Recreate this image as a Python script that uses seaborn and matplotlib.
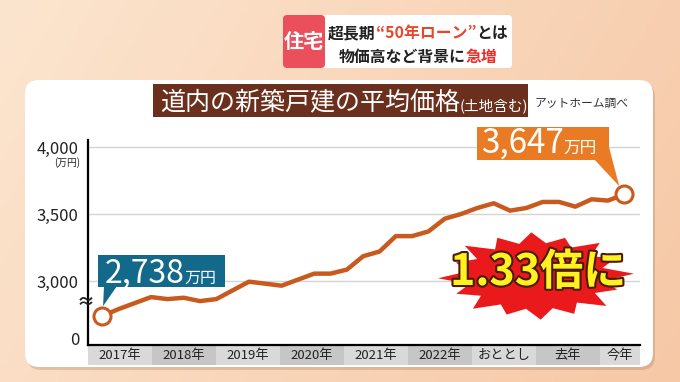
import numpy as np
import matplotlib
matplotlib.use("Agg")
import matplotlib.pyplot as plt
import seaborn as sns
import pandas as pd
from matplotlib.patches import FancyBboxPatch, Polygon, Rectangle
import matplotlib.patheffects as pe

# ---------------- data ----------------
period_labels = ["2017年", "2018年", "2019年", "2020年", "2021年", "2022年", "おととし", "去年", "今年"]
# quarterly average price of newly built detached houses in Hokkaido (万円)
prices = [2738, 2790, 2835, 2880, 2865, 2875, 2850, 2865,
          2930, 2995, 2980, 2965, 3010, 3055, 3055, 3085,
          3185, 3220, 3335, 3335, 3370, 3465, 3500, 3545,
          3580, 3525, 3545, 3590, 3590, 3555, 3610, 3600, 3647]
ytick_vals = [3000, 3500, 4000]
ytick_labels = ["3,000", "3,500", "4,000"]
start_label = ("2,738", "万円")
end_label = ("3,647", "万円")
ratio_label = "1.33倍に"

# ---------------- style ----------------
sns.set_theme(style="white")
plt.rcParams['font.family'] = ['Noto Sans CJK JP', 'DejaVu Sans']

W, H = 680, 382
fig = plt.figure(figsize=(W / 100, H / 100), dpi=100)
T = fig.dpi_scale_trans


def P(x, y):
    return (x / 100, (H - y) / 100)


def F(x, y):
    return (x / W, 1 - y / H)


# background gradient
bg = fig.add_axes([0, 0, 1, 1], zorder=-10)
gx = np.linspace(0, 1, 200)
gy = np.linspace(0, 1, 120)
GX, GY = np.meshgrid(gx, gy)
c1 = np.array([252, 229, 207]) / 255
c2 = np.array([246, 200, 166]) / 255
tt = np.clip(0.75 * GX + 0.25 * GY, 0, 1)[..., None]
img = c1 * (1 - tt) + c2 * tt
bg.imshow(img, aspect='auto', extent=[0, 1, 0, 1])
bg.axis('off')

# white panel
shadow = FancyBboxPatch(P(27, 370), 6.28, 2.87, boxstyle="round,pad=0,rounding_size=0.14",
                        transform=T, fc=(0.6, 0.4, 0.3, 0.25), ec='none', zorder=-6)
fig.add_artist(shadow)
panel = FancyBboxPatch(P(25, 367), 6.28, 2.87, boxstyle="round,pad=0,rounding_size=0.14",
                       transform=T, fc='white', ec='none', zorder=-5)
fig.add_artist(panel)

# ---------------- main axes ----------------
ax = fig.add_axes([88 / W, 37 / H, 552 / W, 205 / H], zorder=0)
ax.set_facecolor('none')
per_px = 500 / 67
ax.set_ylim(3000 - 64 * per_px, 4000 + 7 * per_px)
ax.set_xlim(0, 8.625)

xpos = 0.22 + 0.255 * np.arange(len(prices))
df = pd.DataFrame({"x": xpos, "price": prices})
line_color = "#c85a1e"
sns.lineplot(data=df, x="x", y="price", ax=ax, color=line_color, lw=3.2, zorder=3)
ends = df.iloc[[0, -1]]
sns.scatterplot(data=ends, x="x", y="price", ax=ax, s=150, color='white',
                edgecolor=line_color, linewidth=2.2, zorder=4)

ax.set_yticks(ytick_vals)
ax.set_yticklabels(ytick_labels, fontsize=12, color='#222222')
ax.tick_params(axis='y', length=0, pad=7)
ax.yaxis.grid(True, color='#d4d4d4', lw=1)
ax.set_xticks([])
ax.set_xlabel("")
ax.set_ylabel("")
for s in ['top', 'right']:
    ax.spines[s].set_visible(False)
for s in ['left', 'bottom']:
    ax.spines[s].set_color('black')
    ax.spines[s].set_linewidth(1.6)

yt = ax.get_yaxis_transform()
ax.text(-0.0145, 3000 - 59 * per_px, "0", transform=yt, ha='right', va='center',
        fontsize=12, color='#222222')
ax.text(-0.0145, 4000 - 16 * per_px, "(万円)", transform=yt, ha='right', va='center',
        fontsize=7, color='#222222')
ax.text(-0.004, 3000 - 21 * per_px, "≈", transform=yt, ha='center', va='center',
        fontsize=13, fontweight='bold', color='#222222')

# category bands under the axis
xt = ax.get_xaxis_transform()
band_cols = ['#d9d9d9', '#c6c6c6']
for k, lab in enumerate(period_labels):
    w = 1 if k < len(period_labels) - 1 else 0.625
    ax.add_patch(Rectangle((k, -0.098), w, 0.092, transform=xt, clip_on=False,
                           fc=band_cols[k % 2], ec='none'))
    ax.text(k + w / 2, -0.052, lab, transform=xt, ha='center', va='center',
            fontsize=9.5, color='#222222')

# ---------------- rich text helper ----------------
renderer = fig.canvas.get_renderer()


def rich(x, y, parts, ha='left', va='baseline', zorder=7):
    texts, widths = [], []
    for s, kw in parts:
        t = fig.text(0, 0, s, va=va, ha='left', zorder=zorder, **kw)
        widths.append(t.get_window_extent(renderer).width)
        texts.append(t)
    total = sum(widths)
    cur = x - total / 2 if ha == 'center' else x
    for t, w in zip(texts, widths):
        t.set_position(F(cur, y))
        cur += w
    return texts


# ---------------- header ----------------
fig.add_artist(FancyBboxPatch(P(283, 68), 2.29, 0.53, boxstyle="round,pad=0,rounding_size=0.04",
                              transform=T, fc='white', ec='none', zorder=2))
fig.add_artist(FancyBboxPatch(P(283, 68), 0.42, 0.53, boxstyle="round,pad=0,rounding_size=0.04",
                              transform=T, fc='#ec4f5c', ec='none', zorder=3))
fig.text(*F(304, 42), "住宅", ha='center', va='center', fontsize=14.5, color='white',
         fontweight='bold', zorder=7)
hfs = 11.4
rich(418, 38, [("超長期", dict(fontsize=hfs, color='#222222', fontweight='bold')),
               ("“50年ローン”", dict(fontsize=hfs, color='#e8472b', fontweight='bold')),
               ("とは", dict(fontsize=hfs, color='#222222', fontweight='bold'))], ha='center')
rich(418, 62, [("物価高など背景に", dict(fontsize=hfs, color='#222222', fontweight='bold')),
               ("急増", dict(fontsize=hfs, color='#e8312b', fontweight='bold'))], ha='center')

# ---------------- title ----------------
fig.add_artist(Rectangle(P(153, 117), 3.75, 0.33, transform=T, fc='#6a2f1d', ec='none', zorder=2))
rich(160, 110, [("道内の新築戸建の平均価格", dict(fontsize=18, color='white')),
                ("(土地含む)", dict(fontsize=10.5, color='white'))])
fig.text(*F(535, 103), "アットホーム調べ", ha='left', va='center', fontsize=8.5,
         color='#333333', zorder=7)

# ---------------- callouts ----------------
def data_px(i):
    d = ax.transData.transform((xpos[i], prices[i]))
    return d[0], H - d[1]


sx, sy = data_px(0)
teal = '#13698a'
fig.add_artist(Rectangle(P(98, 287), 1.27, 0.32, transform=T, fc=teal, ec='none', zorder=5))
fig.add_artist(Polygon([P(104, 286), P(117, 286), P(sx + 1, sy - 10)], closed=True,
                       transform=T, fc=teal, ec='none', zorder=5))
rich(105, 283, [(start_label[0], dict(fontsize=23, color='white')),
                (start_label[1], dict(fontsize=11.5, color='white'))])

ex, ey = data_px(len(prices) - 1)
orange = '#ea7b25'
fig.add_artist(Rectangle(P(477, 160), 1.32, 0.33, transform=T, fc=orange, ec='none', zorder=5))
fig.add_artist(Polygon([P(594, 159), P(609, 147), P(ex - 5, ey - 8)], closed=True,
                       transform=T, fc=orange, ec='none', zorder=5))
rich(481, 153, [(end_label[0], dict(fontsize=24, color='white')),
                (end_label[1], dict(fontsize=12, color='white'))])

# ---------------- starburst ----------------
cx, cy = 536, 276
rx, ry = 98, 46
n = 16
outer = [1.0, 0.9, 0.97, 0.88, 0.95, 0.92, 0.98, 0.87, 1.0, 0.9, 0.96, 0.89, 0.95, 0.91, 0.97, 0.88]
pts = []
for k in range(n):
    a0 = 2 * np.pi * k / n + 0.05
    a1 = a0 + np.pi / n
    pts.append(P(cx + rx * outer[k] * np.cos(a0), cy - ry * outer[k] * np.sin(a0)))
    pts.append(P(cx + rx * 0.7 * np.cos(a1), cy - ry * 0.72 * np.sin(a1)))
fig.add_artist(Polygon(pts, closed=True, transform=T, fc='#ea1a1c', ec='none', zorder=5))
fig.text(*F(538, 272), ratio_label, ha='center', va='center', fontsize=31, fontweight='bold',
         color='#fff21f', zorder=7,
         path_effects=[pe.withStroke(linewidth=3, foreground='#4a1a05')])

fig.savefig("out.png", dpi=100)
